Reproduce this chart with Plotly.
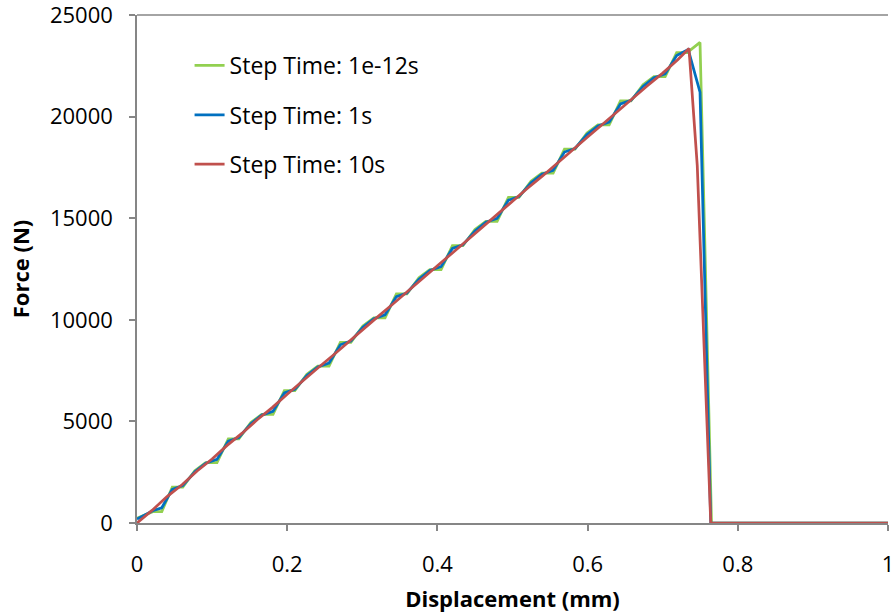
import plotly.graph_objects as go

# Displacement (mm) and Force (N)
x_green = [0, 0.011, 0.021, 0.033, 0.047, 0.061, 0.077, 0.0915, 0.1065, 0.1216, 0.1356, 0.1516, 0.1661, 0.1811,
           0.1962, 0.2102, 0.2262, 0.2407, 0.2557, 0.2708, 0.2848, 0.3008, 0.3153, 0.3303, 0.3454, 0.3594, 0.3754,
           0.3899, 0.4049, 0.42, 0.434, 0.450, 0.4645, 0.4795, 0.4946, 0.5086, 0.5246, 0.5391, 0.5541, 0.5692,
           0.5832, 0.5992, 0.6137, 0.6287, 0.6438, 0.6578, 0.6738, 0.6883, 0.7033, 0.7186, 0.7326, 0.7497, 0.765, 1.0]
f_green = [230, 420, 560, 560, 1770, 1770, 2570, 2970, 2970, 4145, 4145, 4945, 5345, 5345,
           6520, 6520, 7320, 7720, 7720, 8895, 8895, 9695, 10095, 10095, 11270, 11270, 12070,
           12470, 12470, 13645, 13645, 14445, 14845, 14845, 16020, 16020, 16820, 17220, 17220, 18395,
           18395, 19195, 19595, 19595, 20770, 20770, 21570, 21970, 21970, 23145, 23145, 23650, 0, 0]

x_blue = [0, 0.011, 0.021, 0.033, 0.047, 0.061, 0.077, 0.0915, 0.1065, 0.1216, 0.1356, 0.1516, 0.1661, 0.1811,
          0.1962, 0.2102, 0.2262, 0.2407, 0.2557, 0.2708, 0.2848, 0.3008, 0.3153, 0.3303, 0.3454, 0.3594, 0.3754,
          0.3899, 0.4049, 0.42, 0.434, 0.450, 0.4645, 0.4795, 0.4946, 0.5086, 0.5246, 0.5391, 0.5541, 0.5692,
          0.5832, 0.5992, 0.6137, 0.6287, 0.6438, 0.6578, 0.6738, 0.6883, 0.7033, 0.7186, 0.7340, 0.7497, 0.764, 1.0]
f_blue = [200, 390, 600, 750, 1660, 1840, 2520, 2940, 3130, 4030, 4210, 4890, 5310, 5500,
          6400, 6580, 7260, 7680, 7870, 8770, 8950, 9630, 10055, 10245, 11140, 11320, 12000,
          12425, 12615, 13510, 13690, 14375, 14800, 14990, 15885, 16060, 16745, 17170, 17360, 18255,
          18430, 19115, 19540, 19730, 20625, 20800, 21485, 21910, 22100, 23000, 23300, 21200, 0, 0]

x_red = [0, 0.02, 0.04, 0.06, 0.08, 0.10, 0.12, 0.14, 0.16, 0.18, 0.20, 0.22, 0.24, 0.26, 0.28, 0.30,
         0.32, 0.34, 0.36, 0.38, 0.40, 0.42, 0.44, 0.46, 0.48, 0.50, 0.52, 0.54, 0.56, 0.58, 0.60,
         0.62, 0.64, 0.66, 0.68, 0.70, 0.72, 0.735, 0.746, 0.764, 1.0]
f_red = [0, 620, 1300, 1880, 2560, 3150, 3820, 4420, 5080, 5680, 6340, 6950, 7600, 8220, 8870, 9480,
         10130, 10750, 11400, 12020, 12660, 13290, 13930, 14550, 15200, 15820, 16470, 17080, 17730, 18350, 19000,
         19620, 20270, 20880, 21530, 22140, 22800, 23350, 17600, 0, 0]

names = ["Step Time: 1e-12s", "Step Time: 1s", "Step Time: 10s"]
colors = ["#92D050", "#0070C0", "#C0504D"]
x_ticks = [0, 0.2, 0.4, 0.6, 0.8, 1]
x_tick_text = ["0", "0.2", "0.4", "0.6", "0.8", "1"]
y_ticks = [0, 5000, 10000, 15000, 20000, 25000]
y_tick_text = ["0", "5000", "10000", "15000", "20000", "25000"]

FONT = "Open Sans"
fig = go.Figure()
for i, (xs, ys) in enumerate([(x_green, f_green), (x_blue, f_blue), (x_red, f_red)]):
    fig.add_trace(go.Scatter(x=xs, y=ys, mode="lines", name=names[i], legendgroup=str(i),
                             line=dict(color=colors[i], width=2.75)))

fig.update_layout(
    width=892, height=615,
    margin=dict(l=137, r=4, t=15, b=92),
    paper_bgcolor="white", plot_bgcolor="white",
    font=dict(family=FONT, size=22, color="black"),
    showlegend=True,
    legend=dict(x=0.07, y=0.943, xanchor="left", yanchor="top", bgcolor="rgba(0,0,0,0)",
                font=dict(family=FONT, size=23), tracegroupgap=16.5),
    xaxis=dict(range=[0, 1], tickvals=x_ticks, ticktext=x_tick_text, showgrid=False, zeroline=False,
               showline=True, linecolor="#868686", linewidth=1.5, ticks="outside", ticklen=6,
               tickcolor="#868686", tickwidth=1.5, automargin=False, ticklabeloverflow="allow",
               ticklabelstandoff=15, tickfont=dict(family=FONT, size=22),
               title=dict(text="<b>Displacement (mm)</b>", font=dict(family=FONT, size=22), standoff=14)),
    yaxis=dict(range=[0, 25000], tickvals=y_ticks, ticktext=y_tick_text, showgrid=False, zeroline=False,
               showline=True, linecolor="#868686", linewidth=1.5, ticks="outside", ticklen=6,
               tickcolor="#868686", tickwidth=1.5, automargin=False, ticklabeloverflow="allow",
               ticklabelstandoff=12, tickfont=dict(family=FONT, size=22),
               title=dict(text="<b>Force (N)</b>", font=dict(family=FONT, size=22), standoff=14)),
    shapes=[dict(type="line", xref="paper", yref="paper", x0=0, x1=1, y0=1, y1=1,
                 line=dict(color="#868686", width=1.5))],
)

fig.write_html("out.html")
